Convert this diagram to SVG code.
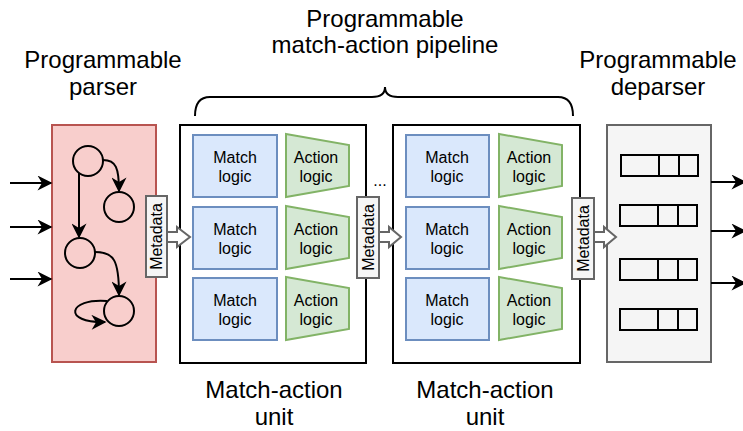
<svg xmlns="http://www.w3.org/2000/svg" width="743" height="431" viewBox="0 0 743 431">
<defs>
<style>
text{font-family:"Liberation Sans",Arial,sans-serif;fill:#000;text-anchor:middle}
.lbl{font-size:24px}
.sm{font-size:16px}
.match{fill:#dae8fc;stroke:#6c8ebf;stroke-width:2}
.act{fill:#d5e8d4;stroke:#82b366;stroke-width:2}
.unit{fill:#fff;stroke:#000;stroke-width:2}
.meta{fill:#f5f5f5;stroke:#666;stroke-width:2}
.harrow{fill:#fff;stroke:#666;stroke-width:2;stroke-linejoin:miter}
.edge{fill:none;stroke:#000;stroke-width:2}
.hdr{fill:none;stroke:#000;stroke-width:2}
.circ{fill:none;stroke:#000;stroke-width:2}
</style>
<marker id="ah" viewBox="0 0 10 10" refX="9" refY="5" markerWidth="16" markerHeight="15" markerUnits="userSpaceOnUse" orient="auto">
<path d="M0,0 L10,5 L0,10 L3,5 z" fill="#000"/>
</marker>
</defs>

<g id="title-pipeline">
<text class="lbl" x="385" y="27">Programmable</text>
<text class="lbl" x="385" y="53">match-action pipeline</text>
</g>
<g id="title-parser">
<text class="lbl" x="103" y="68">Programmable</text>
<text class="lbl" x="103" y="95">parser</text>
</g>
<g id="title-deparser">
<text class="lbl" x="658" y="68">Programmable</text>
<text class="lbl" x="658" y="95">deparser</text>
</g>
<g id="label-unit1">
<text class="lbl" x="274" y="398">Match-action</text>
<text class="lbl" x="274" y="425">unit</text>
</g>
<g id="label-unit2">
<text class="lbl" x="485" y="398">Match-action</text>
<text class="lbl" x="485" y="425">unit</text>
</g>
<g id="brace">
<path class="edge" d="M195,116 Q195,97 210,97 L372,97 Q385,97 385,87 Q385,97 398,97 L558,97 Q573,97 573,116"/>
</g>

<g id="parser">
<rect x="52" y="125" width="104" height="237" fill="#f8cecc" stroke="#b85450" stroke-width="2"/>
<circle class="circ" cx="88" cy="161" r="15"/>
<circle class="circ" cx="119" cy="207" r="15"/>
<circle class="circ" cx="80" cy="253" r="15"/>
<circle class="circ" cx="119" cy="311" r="15"/>
<path class="edge" d="M103,160 C116,160 119,168 119,191" marker-end="url(#ah)"/>
<path class="edge" d="M79,173 L79,237" marker-end="url(#ah)"/>
<path class="edge" d="M95,252 C114,252 119,260 119,295" marker-end="url(#ah)"/>
<path class="edge" d="M107,301 C68,298 62,323 105,322" marker-end="url(#ah)"/>
</g>

<g id="meta1">
<rect class="meta" x="146" y="196" width="21" height="81"/>
<text class="sm" transform="translate(162,236.5) rotate(-90)">Metadata</text>
</g>

<g id="unit1">
<rect class="unit" x="180" y="125" width="186" height="238"/>
<rect class="match" x="193" y="135" width="84" height="62"/>
<text class="sm" x="235" y="163">Match</text><text class="sm" x="235" y="182">logic</text>
<rect class="match" x="193" y="207" width="84" height="62"/>
<text class="sm" x="235" y="235">Match</text><text class="sm" x="235" y="254">logic</text>
<rect class="match" x="193" y="278" width="84" height="62"/>
<text class="sm" x="235" y="306">Match</text><text class="sm" x="235" y="325">logic</text>
<path class="act" d="M286,134 L349,145 L349,186 L286,197 Z"/>
<text class="sm" x="316" y="163">Action</text><text class="sm" x="316" y="182">logic</text>
<path class="act" d="M286,206 L349,217 L349,258 L286,269 Z"/>
<text class="sm" x="316" y="235">Action</text><text class="sm" x="316" y="254">logic</text>
<path class="act" d="M286,277 L349,288 L349,329 L286,340 Z"/>
<text class="sm" x="316" y="306">Action</text><text class="sm" x="316" y="325">logic</text>
</g>

<g id="dots">
<text class="sm" x="380" y="186">...</text>
</g>

<g id="meta2">
<rect class="meta" x="357" y="197" width="22" height="81"/>
<text class="sm" transform="translate(373.5,237.5) rotate(-90)">Metadata</text>
</g>

<g id="unit2">
<rect class="unit" x="393" y="125" width="187" height="238"/>
<rect class="match" x="406" y="135" width="83" height="62"/>
<text class="sm" x="447" y="163">Match</text><text class="sm" x="447" y="182">logic</text>
<rect class="match" x="406" y="207" width="83" height="62"/>
<text class="sm" x="447" y="235">Match</text><text class="sm" x="447" y="254">logic</text>
<rect class="match" x="406" y="278" width="83" height="62"/>
<text class="sm" x="447" y="306">Match</text><text class="sm" x="447" y="325">logic</text>
<path class="act" d="M499,134 L562,145 L562,186 L499,197 Z"/>
<text class="sm" x="529" y="163">Action</text><text class="sm" x="529" y="182">logic</text>
<path class="act" d="M499,206 L562,217 L562,258 L499,269 Z"/>
<text class="sm" x="529" y="235">Action</text><text class="sm" x="529" y="254">logic</text>
<path class="act" d="M499,277 L562,288 L562,329 L499,340 Z"/>
<text class="sm" x="529" y="306">Action</text><text class="sm" x="529" y="325">logic</text>
</g>

<g id="meta3">
<rect class="meta" x="572" y="198" width="22" height="81"/>
<text class="sm" transform="translate(588.5,238.5) rotate(-90)">Metadata</text>
</g>

<g id="deparser">
<rect x="607" y="125" width="104" height="237" fill="#f5f5f5" stroke="#666" stroke-width="2"/>
<rect class="hdr" x="621" y="155" width="77" height="21"/>
<path class="hdr" d="M659,155 V176 M679,155 V176"/>
<rect class="hdr" x="620" y="205" width="77" height="21"/>
<path class="hdr" d="M658,205 V226 M678,205 V226"/>
<rect class="hdr" x="620" y="259" width="77" height="21"/>
<path class="hdr" d="M658,259 V280 M678,259 V280"/>
<rect class="hdr" x="620" y="309" width="77" height="21"/>
<path class="hdr" d="M658,309 V330 M678,309 V330"/>
</g>

<g id="connectors">
<path class="edge" d="M10,183 L51,183" marker-end="url(#ah)"/>
<path class="edge" d="M10,227 L51,227" marker-end="url(#ah)"/>
<path class="edge" d="M10,279 L51,279" marker-end="url(#ah)"/>
<path class="edge" d="M711,182 L745,182" marker-end="url(#ah)"/>
<path class="edge" d="M711,231 L745,231" marker-end="url(#ah)"/>
<path class="edge" d="M711,283 L745,283" marker-end="url(#ah)"/>
<path class="harrow" d="M167,232 L177,232 L177,227 L190,237 L177,247 L177,242 L167,242 Z"/>
<path class="harrow" d="M379,232 L389,232 L389,227 L401,237 L389,247 L389,242 L379,242 Z"/>
<path class="harrow" d="M594,232 L604,232 L604,227 L616,237 L604,247 L604,242 L594,242 Z"/>
</g>
</svg>
